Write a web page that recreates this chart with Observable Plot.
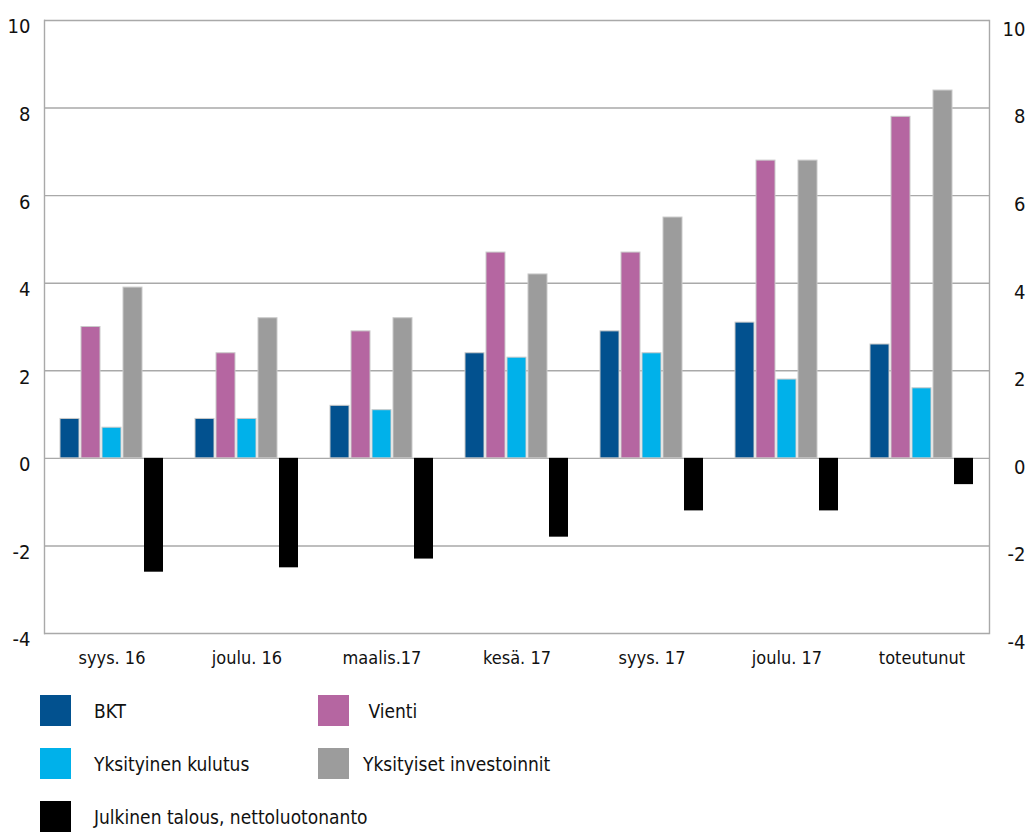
<!DOCTYPE html>
<html>
<head>
<meta charset="utf-8">
<script src="https://cdn.jsdelivr.net/npm/d3@7"></script>
<script src="https://cdn.jsdelivr.net/npm/@observablehq/plot@0.6"></script>
<style>
  html, body { margin: 0; padding: 0; background: #fff; }
  body { width: 1031px; height: 834px; overflow: hidden;
         font-family: "Liberation Sans Narrow", "DejaVu Sans Condensed", "Roboto", sans-serif; color: #111; }
  #chart svg { display: block; }
  .legend { display: grid; grid-template-columns: 278px auto; grid-auto-rows: 53px;
            padding-left: 40px; margin-top: 15px; font-size: 19px; }
  .item { display: flex; align-items: flex-start; }
  .sw { width: 31px; height: 31px; flex: none; }
  .lbl { white-space: pre; line-height: 31px; margin-top: 1px; }
  .c1 .lbl { margin-left: 23px; }
  .c2 .lbl { margin-left: 14px; }
</style>
</head>
<body>
<div id="chart"></div>
<div class="legend" id="legend"></div>
<script>
const categories = ["syys. 16", "joulu. 16", "maalis.17", "kesä. 17", "syys. 17", "joulu. 17", "toteutunut"];
const series = ["BKT", "Vienti", "Yksityinen kulutus", "Yksityiset investoinnit", "Julkinen talous, nettoluotonanto"];
const bkt          = [0.9, 0.9, 1.2, 2.4, 2.9, 3.1, 2.6];
const vienti       = [3.0, 2.4, 2.9, 4.7, 4.7, 6.8, 7.8];
const kulutus      = [0.7, 0.9, 1.1, 2.3, 2.4, 1.8, 1.6];
const investoinnit = [3.9, 3.2, 3.2, 4.2, 5.5, 6.8, 8.4];
const julkinen     = [-2.6, -2.5, -2.3, -1.8, -1.2, -1.2, -0.6];
const yTicks = [-4, -2, 0, 2, 4, 6, 8, 10];
const colors = ["#02518f", "#b566a1", "#00b1ea", "#9c9c9c", "#000000"];
const legendLabels = ["BKT", " Vienti", "Yksityinen kulutus", "Yksityiset investoinnit", "Julkinen talous, nettoluotonanto"];

const valuesBySeries = [bkt, vienti, kulutus, investoinnit, julkinen];
const data = categories.flatMap((c, i) =>
  series.map((s, j) => ({category: c, series: s, value: valuesBySeries[j][i]})));
const outlined = data.filter(d => d.series !== series[4]);
const plain = data.filter(d => d.series === series[4]);

const gridColor = "#a9a9a9";

const chart = Plot.plot({
  width: 1031,
  height: 680,
  marginLeft: 43,
  marginRight: 41,
  marginTop: 20,
  marginBottom: 47,
  style: {fontFamily: '"Liberation Sans Narrow", "DejaVu Sans Condensed", sans-serif', color: "#111", background: "#fff"},
  fx: {domain: categories, padding: 0, label: null},
  x: {domain: series, paddingInner: 0.074, paddingOuter: 0.68, axis: null},
  y: {domain: [-4, 10], axis: null},
  color: {domain: series, range: colors},
  marks: [
    Plot.gridY(yTicks, {stroke: gridColor, strokeOpacity: 1, strokeWidth: 1.4}),
    Plot.frame({anchor: "left", facetAnchor: "left", stroke: gridColor, strokeWidth: 1.4}),
    Plot.frame({anchor: "right", facetAnchor: "right", stroke: gridColor, strokeWidth: 1.4}),
    Plot.barY(outlined, {fx: "category", x: "series", y: "value", fill: "series", stroke: "#c9c9c9", strokeWidth: 1}),
    Plot.barY(plain, {fx: "category", x: "series", y: "value", fill: "series"}),
    Plot.axisY(yTicks, {anchor: "left", label: null, tickSize: 0, tickPadding: 14, dy: 6.5, fontSize: 20, tickFormat: d => String(d)}),
    Plot.axisY(yTicks, {anchor: "right", label: null, tickSize: 0, tickPadding: 36, textAnchor: "end", dy: 9, fontSize: 20, tickFormat: d => String(d)}),
    Plot.axisFx({anchor: "bottom", tickSize: 0, tickPadding: 18, fontSize: 18, label: null})
  ]
});
document.getElementById("chart").appendChild(chart);

const legend = document.getElementById("legend");
series.forEach((s, i) => {
  const item = document.createElement("div");
  item.className = "item " + (i % 2 === 0 ? "c1" : "c2");
  const sw = document.createElement("div");
  sw.className = "sw";
  sw.style.background = colors[i];
  const lbl = document.createElement("span");
  lbl.className = "lbl";
  lbl.textContent = legendLabels[i];
  item.appendChild(sw);
  item.appendChild(lbl);
  legend.appendChild(item);
});
</script>
</body>
</html>
